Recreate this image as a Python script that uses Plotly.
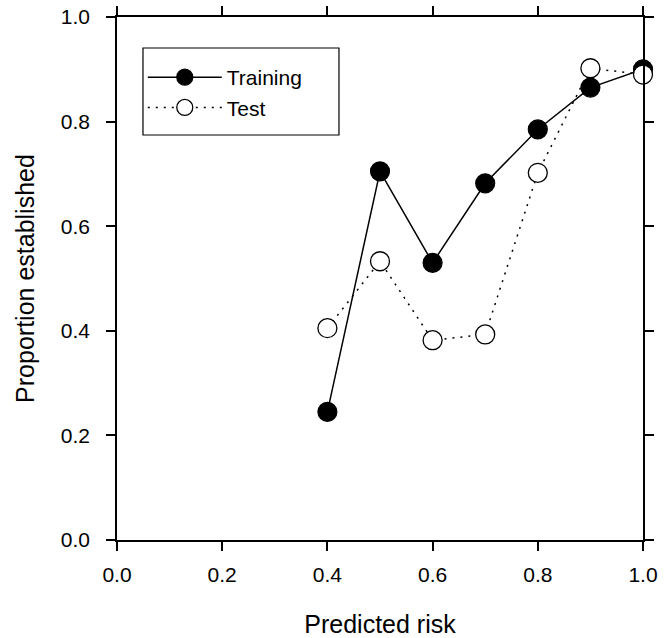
import plotly.graph_objects as go

risk = [0.4, 0.5, 0.6, 0.7, 0.8, 0.9, 1.0]
training = [0.245, 0.705, 0.530, 0.682, 0.785, 0.865, 0.900]
test = [0.405, 0.533, 0.382, 0.393, 0.702, 0.902, 0.890]

fig = go.Figure()
fig.add_trace(go.Scatter(
    x=risk, y=training, name="Training", mode="lines+markers",
    line=dict(color="black", width=1.5),
    marker=dict(size=19, color="black", line=dict(color="black", width=1.2)),
    cliponaxis=False,
))
fig.add_trace(go.Scatter(
    x=risk, y=test, name="Test", mode="lines+markers",
    line=dict(color="black", width=1.5, dash="2px,6px"),
    marker=dict(size=19, color="white", line=dict(color="black", width=1.3)),
    cliponaxis=False,
))

axis_common = dict(
    range=[0, 1], dtick=0.2, tickformat=".1f",
    showline=True, linecolor="black", linewidth=1.6,
    ticks="outside", ticklen=9, tickwidth=1.5, tickcolor="black",
    mirror="ticks", showgrid=False, zeroline=False, automargin=False,
    tickfont=dict(family="Liberation Sans, Arial", size=21, color="black"),
)

fig.update_layout(
    width=669, height=638,
    margin=dict(l=117, r=26, t=17, b=98),
    plot_bgcolor="white", paper_bgcolor="white",
    font=dict(family="Liberation Sans, Arial", color="black"),
    xaxis=dict(**axis_common, ticklabelstandoff=6,
               title=dict(text="Predicted risk", font=dict(size=25), standoff=30)),
    yaxis=dict(**axis_common, ticklabelstandoff=12,
               title=dict(text="Proportion established", font=dict(size=25), standoff=19)),
    legend=dict(
        x=0.049, y=0.9235, xanchor="left", yanchor="top",
        borderwidth=0, bgcolor="rgba(0,0,0,0)",
        font=dict(size=21), itemwidth=74,
        tracegroupgap=0,
    ),
    shapes=[dict(type="rect", xref="paper", yref="paper",
                 x0=0.0494, x1=0.422, y0=0.7744, y1=0.9407,
                 line=dict(color="black", width=1.2), fillcolor="rgba(0,0,0,0)",
                 layer="above")],
    showlegend=True,
)

fig.write_html("out.html")
